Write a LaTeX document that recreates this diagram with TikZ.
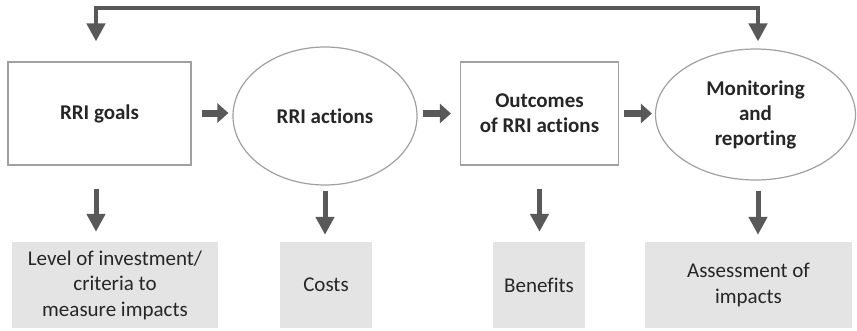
\documentclass[tikz,border=0pt]{standalone}
\usepackage{fontspec}
\setmainfont{Carlito}[RawFeature=-liga]
\usetikzlibrary{shapes.geometric}
\usetikzlibrary{arrows.meta}

\definecolor{arrowgray}{HTML}{595959}
\definecolor{linegray}{HTML}{A0A0A0}
\definecolor{boxgray}{HTML}{E4E4E4}
\definecolor{textgray}{HTML}{262626}

\begin{document}
\begin{tikzpicture}[x=1pt,y=-1pt,
  stage/.style={draw=linegray,line width=1.2pt,text=textgray,align=center,
    font=\fontsize{21}{25}\selectfont\bfseries},
  stagebox/.style={stage,rectangle,minimum height=103pt},
  stageoval/.style={stage,ellipse,inner sep=0pt},
  result/.style={fill=boxgray,text=textgray,align=center,minimum height=86pt,
    font=\fontsize{21}{25.5}\selectfont},
  flow/.style={arrowgray,line width=7pt,-{Triangle[width=19pt,length=11pt]}},
  drop/.style={arrowgray,line width=5pt,-{Triangle[width=18pt,length=18pt]}},
  loopback/.style={arrowgray,line width=4.5pt,line join=miter,
    {Triangle[width=18pt,length=18pt]}-{Triangle[width=18pt,length=18pt]}}]
 \useasboundingbox (0,0) rectangle (857,330);

 \node[stagebox,minimum width=183pt] (goals) at (99.5,113.5) {RRI goals};
 \node[stageoval,minimum width=184pt,minimum height=138pt] (actions) at (325,116) {RRI actions};
 \node[stagebox,minimum width=158pt] (outcomes) at (539.5,113.5) {Outcomes\\of RRI actions};
 \node[stageoval,minimum width=200pt,minimum height=131pt] (monitor) at (755.5,114.5) {Monitoring\\and\\reporting};

 \node[result,minimum width=206pt] (level) at (115,285) {Level of investment/\\criteria to\\measure impacts};
 \node[result,minimum width=92pt] (costs) at (326,285) {Costs};
 \node[result,minimum width=92pt] (benefits) at (539,285) {Benefits};
 \node[result,minimum width=207pt] (assess) at (748.5,285) {Assessment of\\impacts};

 \coordinate (topl) at (96,8);
 \coordinate (topr) at (758,8);

 \draw[flow] ([xshift=10pt,yshift=0.5pt]goals.east) -- ([xshift=-4pt,yshift=0.5pt]goals.east -| actions.west);
 \draw[flow] ([xshift=5pt]actions.east |- outcomes.west) -- ([xshift=-9pt]outcomes.west);
 \draw[flow] ([xshift=5pt]outcomes.east) -- ([xshift=-3pt]outcomes.east -| monitor.west);

 \draw[drop] ([yshift=-23pt]goals.south -| topl) -- ([yshift=10pt]topl |- level.north);
 \draw[drop] ([yshift=-5pt]actions.south) -- ([yshift=7pt]actions.south |- costs.north);
 \draw[drop] ([yshift=-23pt]outcomes.south) -- ([yshift=10pt]outcomes.south |- benefits.north);
 \draw[drop] ([yshift=-10pt]monitor.south -| topr) -- ([yshift=7pt]topr |- assess.north);

 \draw[loopback] ([yshift=20pt]topl |- goals.north) -- (topl) -- (topr) -- ([yshift=7pt]topr |- monitor.north);
\end{tikzpicture}
\end{document}
